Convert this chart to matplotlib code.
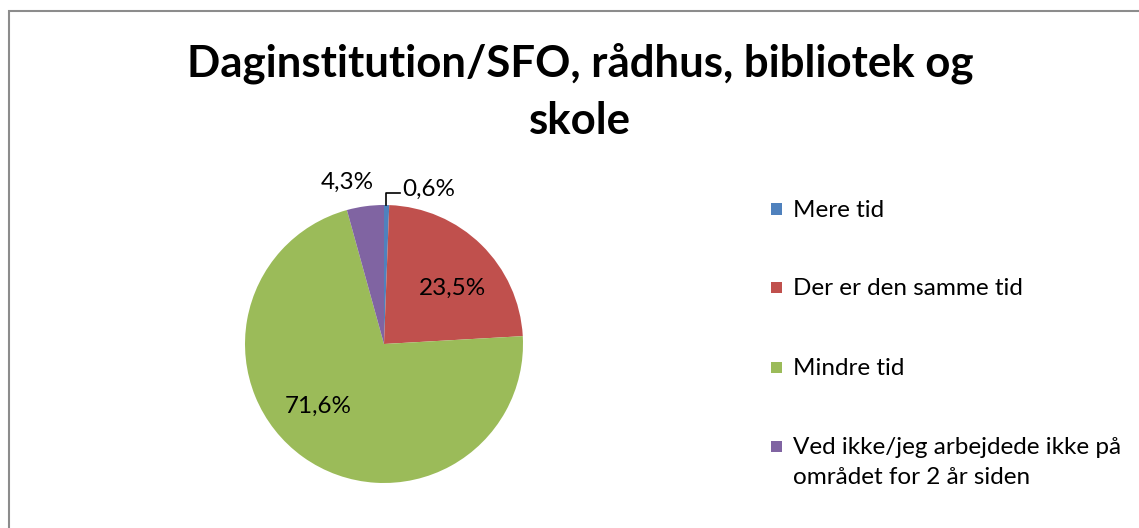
import matplotlib
matplotlib.use("Agg")
import matplotlib.pyplot as plt
from matplotlib.patches import Rectangle

categories = ["Mere tid", "Der er den samme tid", "Mindre tid",
              "Ved ikke/jeg arbejdede ikke på\nområdet for 2 år siden"]
values = [0.6, 23.5, 71.6, 4.3]
labels = ["0,6%", "23,5%", "71,6%", "4,3%"]
colors = ["#4F81BD", "#C0504D", "#9BBB59", "#8064A2"]
title_lines = ["Daginstitution/SFO, rådhus, bibliotek og", "skole"]

W, H = 1139, 528
fig = plt.figure(figsize=(W / 100, H / 100), dpi=100)
FONT = "Lato"
FS = 17.5

# chart border (cropped at right/bottom)
fig.patches.append(Rectangle((9 / W, -0.05), 1.2, (H - 11) / H + 0.05,
                             transform=fig.transFigure, fill=False,
                             edgecolor="#8c8c8c", linewidth=1.5))

# title
fig.text(580 / W, 1 - 77 / H, title_lines[0], ha="center", va="baseline",
         fontsize=31.5, fontweight="bold", family=FONT)
fig.text(580 / W, 1 - 134 / H, title_lines[1], ha="center", va="baseline",
         fontsize=31.5, fontweight="bold", family=FONT)

# pie
cx, cy, r = 384, 344, 139
ax = fig.add_axes([(cx - r) / W, (H - cy - r) / H, 2 * r / W, 2 * r / H])
wedges, _ = ax.pie(values, colors=colors, startangle=90, counterclock=False,
                   radius=1.0, wedgeprops=dict(linewidth=0))
ax.set_xlim(-1, 1)
ax.set_ylim(-1, 1)
ax.set_aspect("equal")
ax.axis("off")

label_pos = [(0.129, 1.115, "left"), (0.493, 0.403, "center"),
             (-0.475, -0.446, "center"), (-0.266, 1.165, "center")]
for lab, (x, y, ha) in zip(labels, label_pos):
    ax.text(x, y, lab, ha=ha, va="center", fontsize=FS, family=FONT,
            clip_on=False)
ax.plot([0.012, 0.012, 0.115], [1.0, 1.086, 1.086], color="black",
        linewidth=1.2, clip_on=False)

# legend
leg_y = [209, 287, 367, 446]
line_gap = 30
for cat, col, y in zip(categories, colors, leg_y):
    fig.patches.append(Rectangle((771 / W, 1 - (y + 5.5) / H), 11 / W, 11 / H,
                                 transform=fig.transFigure, facecolor=col,
                                 edgecolor="none"))
    for i, line in enumerate(cat.split("\n")):
        fig.text(793 / W, 1 - (y + 8 + i * line_gap) / H, line, ha="left",
                 va="baseline", fontsize=FS, family=FONT)

fig.savefig("out.png", dpi=100)
